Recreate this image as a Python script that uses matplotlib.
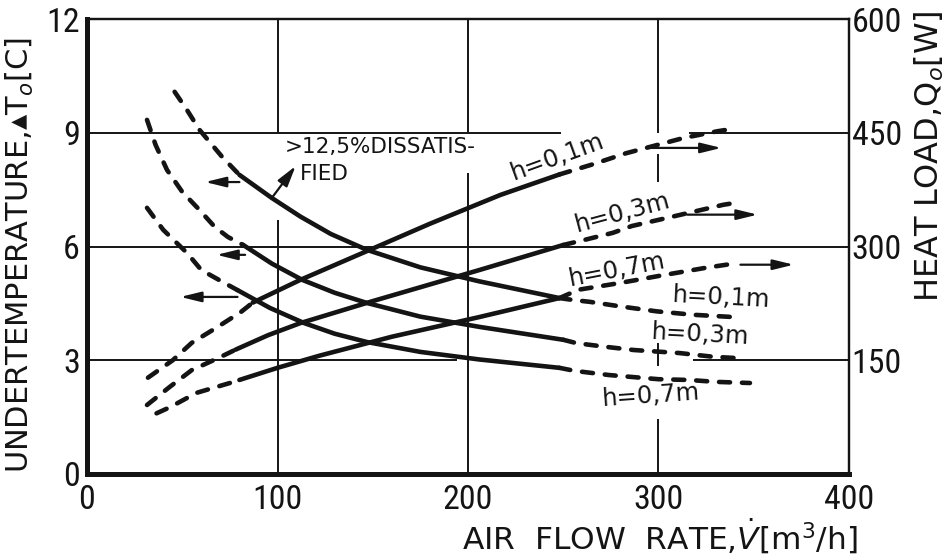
import matplotlib
matplotlib.use("Agg")
import matplotlib.pyplot as plt

# ---- data -------------------------------------------------------------
# Undertemperature (left axis, C) versus air flow rate (m3/h)
# dashed part left of the comfort limit, solid part, dashed extrapolation
dec1_dash_x = [46, 52.5, 59, 67, 71, 80]
dec1_dash_y = [10.08, 9.60, 9.08, 8.60, 8.36, 7.89]
dec1_x = [80, 97, 112, 128, 147, 175, 206, 248]
dec1_y = [7.89, 7.28, 6.79, 6.33, 5.91, 5.45, 5.08, 4.64]
dec1_ext_x = [248, 255, 264, 280, 299, 318, 339]
dec1_ext_y = [4.64, 4.59, 4.54, 4.42, 4.29, 4.20, 4.14]

dec2_dash_x = [31.5, 36, 42, 50, 58, 67, 74, 82]
dec2_dash_y = [9.34, 8.68, 8.02, 7.44, 7.02, 6.52, 6.25, 6.04]
dec2_x = [82, 97, 113, 130, 147, 175, 206, 250]
dec2_y = [6.04, 5.55, 5.12, 4.78, 4.51, 4.15, 3.88, 3.54]
dec2_ext_x = [250, 257, 273, 287, 311, 329, 344]
dec2_ext_y = [3.54, 3.45, 3.35, 3.27, 3.19, 3.09, 3.05]

dec3_dash_x = [31.5, 40, 52.5, 60, 71, 79]
dec3_dash_y = [7.02, 6.44, 5.83, 5.38, 5.07, 4.85]
dec3_x = [79, 96, 114, 130, 147, 175, 206, 248]
dec3_y = [4.85, 4.38, 3.98, 3.70, 3.48, 3.22, 3.02, 2.80]
dec3_ext_x = [248, 256, 274, 300, 316, 330, 348]
dec3_ext_y = [2.80, 2.72, 2.61, 2.50, 2.48, 2.43, 2.40]

# Heat load (right axis, W) versus air flow rate (m3/h)
inc1_dash_x = [32, 45, 55, 68, 81, 87]
inc1_dash_y = [127, 150, 173, 193, 214, 226]
inc1_x = [87, 112, 147, 180, 217, 248]
inc1_y = [226, 256, 294, 330, 368, 395]
inc1_ext_x = [248, 265, 283, 313, 331, 336]
inc1_ext_y = [395, 408, 423, 443, 452, 454]

inc2_dash_x = [31.5, 43.5, 55, 69, 78]
inc2_dash_y = [91, 115, 137, 153, 164]
inc2_x = [78, 95, 112, 150, 206, 250]
inc2_y = [164, 183, 199, 228, 269, 302]
inc2_ext_x = [250, 260, 276, 286, 305, 334, 339]
inc2_ext_y = [302, 308, 318, 327, 338, 355, 357]

inc3_dash_x = [36.5, 43.5, 57.5, 75, 80]
inc3_dash_y = [80, 88, 107, 120, 124]
inc3_x = [80, 100, 122, 160, 206, 248]
inc3_y = [124, 140, 156, 181, 207, 232]
inc3_ext_x = [248, 258, 280, 302, 325, 341]
inc3_ext_y = [232, 243, 252, 262, 272, 278]

# direction arrows: (tail x, head x, level)
dec_arrows = [(80, 62, 7.70), (83, 68, 5.78), (79, 49, 4.67)]
inc_arrows = [(294, 333, 430), (315, 352, 342), (343, 371, 276)]

x_ticks = [0, 100, 200, 300, 400]
y_ticks = [0, 3, 6, 9, 12]
q_ticks = [150, 300, 450, 600]

curve_labels_dec = ["h=0,1m", "h=0,3m", "h=0,7m"]
curve_labels_inc = ["h=0,1m", "h=0,3m", "h=0,7m"]

# ---- figure -----------------------------------------------------------
NUM_FONT = ["Roboto Condensed", "Liberation Sans Narrow", "Roboto", "DejaVu Sans"]
TXT_FONT = ["DejaVu Sans"]

fig = plt.figure(figsize=(9.45, 5.6), dpi=100)
fig.patch.set_facecolor("white")
ax = fig.add_axes([87 / 945, 1 - 474 / 560, (849 - 87) / 945, (474 - 19) / 560])
ax.set_xlim(0, 400)
ax.set_ylim(0, 12)
ax2 = ax.twinx()
ax2.set_ylim(0, 600)

LW = 3.3
DASH = (0, (2.4, 2.6))
ink = "#141414"


def draw(a, dx, dy, sx, sy, ex, ey):
    a.plot(dx, dy, color=ink, lw=LW, linestyle=DASH, dash_capstyle="round")
    a.plot(sx, sy, color=ink, lw=LW, solid_capstyle="round", solid_joinstyle="round")
    a.plot(ex, ey, color=ink, lw=LW, linestyle=DASH, dash_capstyle="round")


draw(ax, dec1_dash_x, dec1_dash_y, dec1_x, dec1_y, dec1_ext_x, dec1_ext_y)
draw(ax, dec2_dash_x, dec2_dash_y, dec2_x, dec2_y, dec2_ext_x, dec2_ext_y)
draw(ax, dec3_dash_x, dec3_dash_y, dec3_x, dec3_y, dec3_ext_x, dec3_ext_y)
draw(ax2, inc1_dash_x, inc1_dash_y, inc1_x, inc1_y, inc1_ext_x, inc1_ext_y)
draw(ax2, inc2_dash_x, inc2_dash_y, inc2_x, inc2_y, inc2_ext_x, inc2_ext_y)
draw(ax2, inc3_dash_x, inc3_dash_y, inc3_x, inc3_y, inc3_ext_x, inc3_ext_y)

arrow_kw = dict(arrowstyle="-|>,head_length=0.9,head_width=0.22", lw=1.6,
                color=ink, shrinkA=0, shrinkB=0, mutation_scale=14)
for tail, head, lev in dec_arrows:
    ax.annotate("", xy=(head, lev), xytext=(tail, lev), arrowprops=arrow_kw)
for tail, head, lev in inc_arrows:
    ax2.annotate("", xy=(head, lev), xytext=(tail, lev), arrowprops=arrow_kw)

# broken grid lines (interrupted around the lettering)
grid_kw = dict(color=ink, lw=1.4, zorder=1)
ax.hlines(6, 0, 400, **grid_kw)
for x0, x1 in [(0, 249), (316, 400)]:
    ax.hlines(9, x0, x1, **grid_kw)
for x0, x1 in [(0, 194), (318, 400)]:
    ax.hlines(3, x0, x1, **grid_kw)
for y0, y1 in [(0, 6.7), (9, 12)]:
    ax.vlines(100, y0, y1, **grid_kw)
for y0, y1 in [(0, 7.95), (9, 12)]:
    ax.vlines(200, y0, y1, **grid_kw)
for y0, y1 in [(0, 1.45), (2.85, 3.45), (7.7, 8.45), (9, 12)]:
    ax.vlines(300, y0, y1, **grid_kw)

# comfort-limit note
note_kw = dict(fontsize=15.5, family=TXT_FONT, ha="left", va="center", color=ink)
ax.text(104, 8.62, ">12,5%DISSATIS-", **note_kw)
ax.text(112, 7.90, "FIED", **note_kw)
ax.annotate("", xy=(109.5, 8.12), xytext=(97, 7.28),
            arrowprops=dict(arrowstyle="-|>,head_length=0.9,head_width=0.25",
                            lw=1.6, color=ink, shrinkA=0, shrinkB=0,
                            mutation_scale=14))

# curve labels
lab_kw = dict(fontsize=17.5, family=TXT_FONT, ha="center", va="center", color=ink)
ax.text(333, 4.64, curve_labels_dec[0], rotation=-3, **lab_kw)
ax.text(322, 3.67, curve_labels_dec[1], rotation=-3, **lab_kw)
ax.text(296, 2.08, curve_labels_dec[2], rotation=4, **lab_kw)
ax2.text(247, 418, curve_labels_inc[0], rotation=20, **lab_kw)
ax2.text(281, 344, curve_labels_inc[1], rotation=15, **lab_kw)
ax2.text(278, 269, curve_labels_inc[2], rotation=11, **lab_kw)

# axes frame
for a in (ax, ax2):
    a.spines["left"].set_linewidth(3.6)
    a.spines["bottom"].set_linewidth(3.6)
    a.spines["top"].set_linewidth(1.6)
    a.spines["right"].set_linewidth(1.6)
    for s in a.spines.values():
        s.set_color(ink)

ax.set_xticks(x_ticks)
ax.set_yticks(y_ticks)
ax2.set_yticks(q_ticks)
ax.set_xticklabels([str(v) for v in x_ticks], family=NUM_FONT, fontsize=24.5)
ax.set_yticklabels([str(v) for v in y_ticks], family=NUM_FONT, fontsize=24.5)
ax2.set_yticklabels([str(v) for v in q_ticks], family=NUM_FONT, fontsize=24.5)
ax.tick_params(axis="x", length=0, pad=7, colors=ink)
ax.tick_params(axis="y", length=0, pad=5, colors=ink)
ax2.tick_params(axis="y", length=0, pad=2, colors=ink)

fig.text(20 / 945, 1 - 255 / 560, r"UNDERTEMPERATURE,$\blacktriangle$T$_o$[C]",
         rotation=90, ha="center", va="center", fontsize=22, family=TXT_FONT,
         color=ink)
fig.text(929 / 945, 1 - 10 / 560, r"HEAT LOAD,Q$_o$[W]", rotation=90,
         ha="center", va="top", fontsize=23, family=TXT_FONT, color=ink)
fig.text(858 / 945, 1 - 550 / 560, r"AIR  FLOW  RATE,$\dot{V}$[m$^3$/h]",
         ha="right", va="baseline", fontsize=22.5, family=TXT_FONT, color=ink)

fig.savefig("out.png", dpi=100, facecolor="white")
